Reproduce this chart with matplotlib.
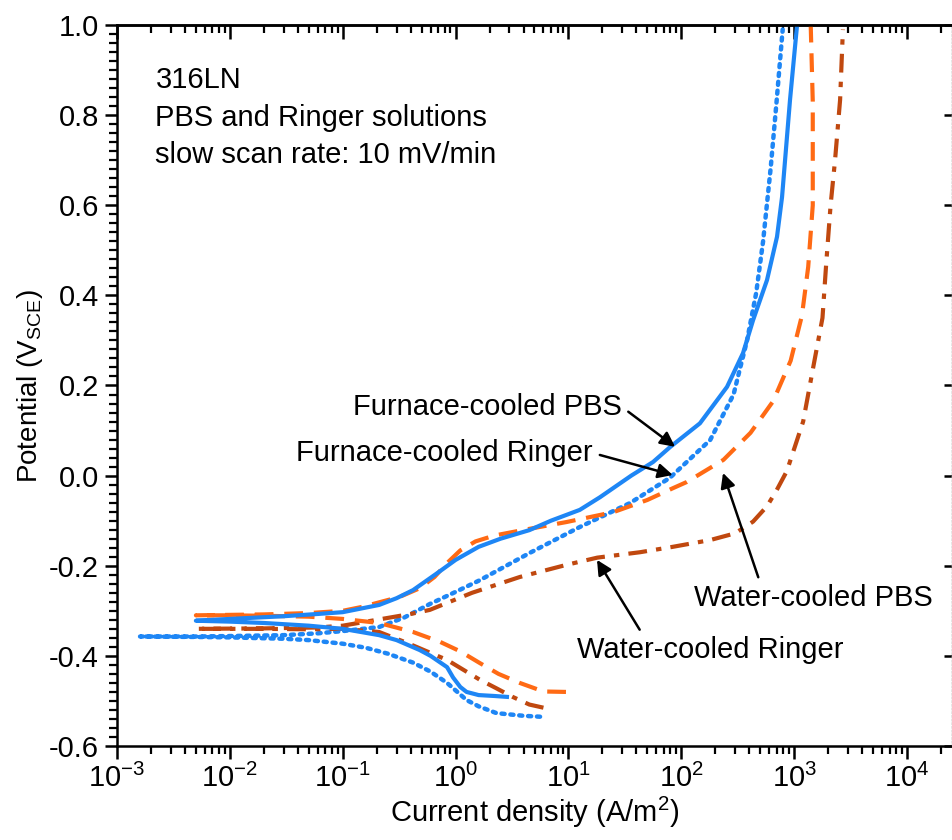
import numpy as np
import matplotlib
matplotlib.use("Agg")
import matplotlib.pyplot as plt
from matplotlib.ticker import FixedLocator, NullFormatter, MultipleLocator

plt.rcParams['font.family'] = ['Liberation Sans', 'DejaVu Sans']
plt.rcParams['mathtext.fontset'] = 'custom'
plt.rcParams['mathtext.rm'] = 'Liberation Sans'
plt.rcParams['mathtext.it'] = 'Liberation Sans:italic'

# Furnace-cooled PBS (solid blue): cathodic branch then anodic branch
fc_pbs_i = [2.85, 2.2, 1.6, 1.25, 1.1, 0.95, 0.84, 0.6, 0.48, 0.3, 0.21, 0.1, 0.05, 0.02, 0.01,
            0.005,
            0.01, 0.03, 0.06, 0.1, 0.21, 0.3, 0.42, 0.7, 1.0, 1.6, 2.5, 4.5, 7.0, 12.6, 19, 36,
            56, 80, 146, 254, 352, 432, 574, 704, 780, 918, 1060]
fc_pbs_E = [-0.491, -0.489, -0.487, -0.480, -0.469, -0.448, -0.425, -0.400, -0.387, -0.365,
            -0.354, -0.340, -0.333, -0.327, -0.324, -0.322,
            -0.318, -0.312, -0.307, -0.303, -0.287, -0.272, -0.254, -0.215, -0.187, -0.158,
            -0.140, -0.121, -0.100, -0.076, -0.048, 0.000, 0.030, 0.064, 0.116, 0.197, 0.272,
            0.345, 0.434, 0.530, 0.618, 0.834, 1.0]

# Furnace-cooled Ringer (dotted blue)
fc_rin_i = [5.6, 4.0, 2.3, 1.6, 1.25, 0.84, 0.6, 0.42, 0.25, 0.16, 0.1, 0.05, 0.03, 0.01, 0.005,
            0.0016,
            0.005, 0.01, 0.03, 0.06, 0.1, 0.21, 0.35, 0.59, 1.0, 1.64, 4.5, 12.6, 35, 79, 180,
            290, 382, 460, 530, 620, 700, 790]
fc_rin_E = [-0.535, -0.533, -0.527, -0.512, -0.498, -0.460, -0.435, -0.415, -0.395, -0.382,
            -0.373, -0.365, -0.362, -0.359, -0.358, -0.357,
            -0.357, -0.356, -0.354, -0.350, -0.345, -0.336, -0.315, -0.285, -0.258, -0.232,
            -0.172, -0.114, -0.061, -0.005, 0.079, 0.180, 0.300, 0.405, 0.520, 0.685, 0.834,
            0.990]

# Water-cooled PBS (dashed orange)
wc_pbs_i = [9.5, 6.0, 3.7, 2.4, 1.64, 1.1, 0.73, 0.42, 0.21, 0.1, 0.05, 0.02, 0.01, 0.005,
            0.02, 0.05, 0.1, 0.15, 0.32, 0.48, 0.65, 0.84, 1.1, 1.5, 2.2, 3.9, 9.6, 25, 50, 84,
            112, 236, 410, 650, 930, 1170, 1330, 1460, 1460, 1400]
wc_pbs_E = [-0.480, -0.479, -0.460, -0.440, -0.416, -0.390, -0.369, -0.347, -0.327, -0.318,
            -0.313, -0.311, -0.310, -0.310,
            -0.308, -0.305, -0.300, -0.291, -0.269, -0.250, -0.225, -0.194, -0.166, -0.146,
            -0.133, -0.121, -0.103, -0.081, -0.054, -0.028, -0.014, 0.035, 0.095, 0.165,
            0.255, 0.355, 0.463, 0.600, 0.830, 1.0]

# Water-cooled Ringer (dash-dot brown)
wc_rin_i = [6.0, 4.5, 3.2, 2.3, 1.64, 0.84, 0.37, 0.21, 0.1, 0.05, 0.02, 0.005,
            0.02, 0.06, 0.1, 0.2, 0.4, 0.59, 1.4, 3.7, 9.6, 18, 43, 84, 180, 300, 432, 574,
            700, 860, 1200, 1460, 1780, 1920, 2100, 2300, 2550, 2700]
wc_rin_E = [-0.515, -0.508, -0.491, -0.472, -0.453, -0.409, -0.371, -0.347, -0.340, -0.341,
            -0.340, -0.340,
            -0.339, -0.337, -0.333, -0.320, -0.307, -0.298, -0.260, -0.225, -0.198, -0.182,
            -0.170, -0.158, -0.143, -0.128, -0.102, -0.068, -0.032, 0.010, 0.120, 0.235,
            0.350, 0.470, 0.600, 0.700, 0.834, 0.990]

decades = 10.0 ** np.arange(-3, 5)
minors = [d * k for d in 10.0 ** np.arange(-3, 5) for k in range(2, 10) if d * k < 2.5e4]

blue = '#1e86f5'
orange = '#ff6a14'
brown = '#c0480f'

fig = plt.figure(figsize=(9.53, 8.4), dpi=100)
ax = fig.add_axes([117/953, 1-746/840, 835/953, 721/840])

ax.plot(fc_rin_i, fc_rin_E, color=blue, lw=3.2, linestyle=(0, (0.7, 1.3)),
        dash_capstyle='round')
ax.plot(wc_rin_i, wc_rin_E, color=brown, lw=3.0, linestyle=(0, (4.5, 2.2, 1.3, 2.2)))
ax.plot(wc_pbs_i, wc_pbs_E, color=orange, lw=3.0, linestyle=(0, (4.5, 2.6)))
ax.plot(fc_pbs_i, fc_pbs_E, color=blue, lw=3.0)

ax.set_xscale('log')
ax.set_xlim(1e-3, 2.5e4)
ax.set_ylim(-0.6, 1.0)

ax.xaxis.set_major_locator(FixedLocator(decades))
ax.xaxis.set_major_formatter(plt.FuncFormatter(
    lambda v, p: r'$\mathregular{10^{%d}}$' % round(np.log10(v))))
ax.xaxis.set_minor_locator(FixedLocator(minors))
ax.xaxis.set_minor_formatter(NullFormatter())
ax.yaxis.set_major_locator(MultipleLocator(0.2))
ax.yaxis.set_minor_locator(MultipleLocator(0.02))
ax.yaxis.set_major_formatter(plt.FuncFormatter(lambda v, p: f"{v:.1f}"))

ax.tick_params(which='major', direction='out', length=9, width=1.8, labelsize=21, pad=4)
ax.tick_params(which='minor', direction='out', length=5.5, width=1.6)
ax.tick_params(right=False, top=False)

for s in ['left', 'bottom', 'top']:
    ax.spines[s].set_linewidth(1.8)
ax.spines['right'].set_color('#bbbbbb')
ax.spines['right'].set_linestyle(':')
ax.spines['right'].set_linewidth(1.0)

top = ax.secondary_xaxis('top')
top.xaxis.set_major_locator(FixedLocator(decades))
top.xaxis.set_minor_locator(FixedLocator(minors))
top.xaxis.set_major_formatter(NullFormatter())
top.xaxis.set_minor_formatter(NullFormatter())
top.tick_params(which='major', direction='in', length=10, width=1.8, labeltop=False)
top.tick_params(which='minor', direction='in', length=6, width=1.6)
top.spines['top'].set_linewidth(1.8)

right = ax.secondary_yaxis('right')
right.yaxis.set_major_locator(MultipleLocator(0.2))
right.yaxis.set_minor_locator(plt.NullLocator())
right.yaxis.set_major_formatter(NullFormatter())
right.tick_params(which='major', direction='in', length=6, width=1.8, labelright=False)
right.spines['right'].set_color('#bbbbbb')
right.spines['right'].set_linestyle(':')
right.spines['right'].set_linewidth(1.0)

ax.set_xlabel('Current density (A/m$^{2}$)', fontsize=21, labelpad=1)
ax.set_ylabel('Potential (V$_{\\mathregular{SCE}}$)', fontsize=20)
ax.yaxis.set_label_coords(-0.086, 0.5)

ax.text(0.046, 0.9126, '316LN', transform=ax.transAxes, fontsize=21, va='baseline')
ax.text(0.046, 0.8606, 'PBS and Ringer solutions', transform=ax.transAxes, fontsize=21,
        va='baseline')
ax.text(0.046, 0.8086, 'slow scan rate: 10 mV/min', transform=ax.transAxes, fontsize=21,
        va='baseline')

arrow = dict(arrowstyle='-|>', color='black', lw=1.8, mutation_scale=22, shrinkA=3, shrinkB=0)

ax.annotate('Furnace-cooled PBS', xy=(88, 0.064), xytext=(29.9, 0.152), fontsize=21,
            ha='right', va='center', arrowprops=dict(arrow, relpos=(1.0, 0.5)))
ax.annotate('Furnace-cooled Ringer', xy=(84, 0.0014), xytext=(16.5, 0.050), fontsize=21,
            ha='right', va='center', arrowprops=dict(arrow, relpos=(1.0, 0.5)))
ax.annotate('Water-cooled PBS', xy=(234, 0.006), xytext=(1469, -0.2715), fontsize=21,
            ha='center', va='center', arrowprops=dict(arrow, relpos=(0.28, 1.0)))
ax.annotate('Water-cooled Ringer', xy=(17.9, -0.187), xytext=(180, -0.387), fontsize=21,
            ha='center', va='center', arrowprops=dict(arrow, relpos=(0.25, 1.0)))

fig.savefig('out.png', dpi=100)
